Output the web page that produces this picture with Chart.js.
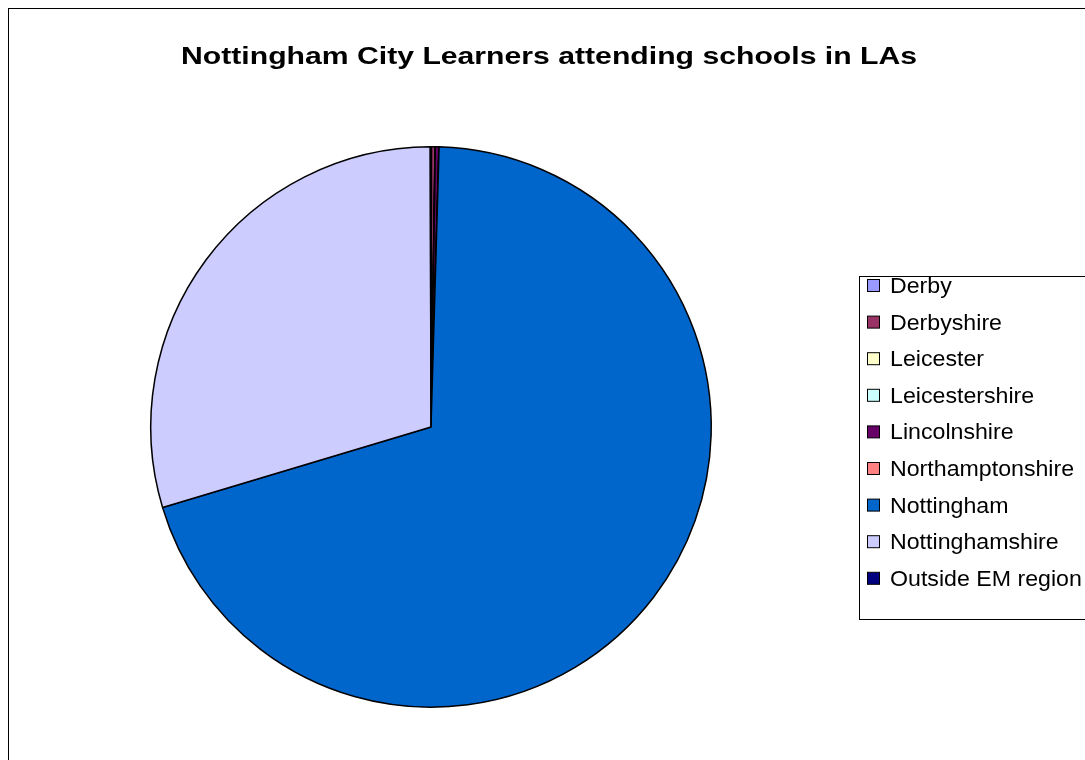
<!DOCTYPE html>
<html><head><meta charset="utf-8">
<script src="https://cdn.jsdelivr.net/npm/chart.js@4"></script>
<style>html,body{margin:0;padding:0;background:#fff;overflow:hidden}</style>
</head><body>
<canvas id="myChart" width="1085" height="760" style="width:1085px;height:760px"></canvas>
<script>
const labels = ["Derby", "Derbyshire", "Leicester", "Leicestershire", "Lincolnshire", "Northamptonshire", "Nottingham", "Nottinghamshire", "Outside EM region"];
const values = [0.03, 0.2, 0.01, 0.01, 0.2, 0.01, 69.9, 29.6, 0.04];
const colors = ["#9999FF", "#993366", "#FFFFCC", "#CCFFFF", "#660066", "#FF8080", "#0066CC", "#CCCCFF", "#000080"];
const title = "Nottingham City Learners attending schools in LAs";

// frame, title and legend box like the old office chart
const decor = {
  id: "decor",
  beforeDraw(chart) {
    const c = chart.ctx;
    c.save();
    c.strokeStyle = "#000";
    c.lineWidth = 1;
    c.strokeRect(8.5, 8.5, 1100, 800);
    c.restore();
  },
  afterDraw(chart) {
    const c = chart.ctx;
    c.save();
    c.fillStyle = "#000";
    c.font = "bold 24px Arial, 'Liberation Sans'";
    c.textBaseline = "middle";
    const tw = c.measureText(title).width;
    c.save();
    c.translate(181, 57);
    c.scale(736 / tw, 1);
    c.fillText(title, 0, 0);
    c.restore();

    c.strokeStyle = "#000";
    c.lineWidth = 1;
    c.fillStyle = "#fff";
    c.fillRect(859.5, 276.5, 240, 343);
    c.strokeRect(859.5, 276.5, 240, 343);
    c.font = "22px Arial, 'Liberation Sans'";
    const sx = 112 / c.measureText("Derbyshire").width;
    chart.data.labels.forEach((l, i) => {
      const y = 286 + i * 36.6;
      c.fillStyle = colors[i];
      c.fillRect(867.5, y - 6.5, 12, 12);
      c.strokeRect(867.5, y - 6.5, 12, 12);
      c.fillStyle = "#000";
      c.save();
      c.translate(890, y + 1);
      c.scale(sx, 1);
      c.fillText(l, 0, 0);
      c.restore();
    });
    c.restore();
  }
};

new Chart(document.getElementById("myChart"), {
  type: "pie",
  data: { labels: labels, datasets: [{ data: values, backgroundColor: colors, borderColor: "#000", borderWidth: 1.5 }] },
  plugins: [decor],
  options: {
    responsive: false,
    animation: false,
    layout: { padding: { left: 150, right: 373, top: 146, bottom: 52 } },
    plugins: { legend: { display: false }, tooltip: { enabled: false } }
  }
});
</script>
</body></html>
